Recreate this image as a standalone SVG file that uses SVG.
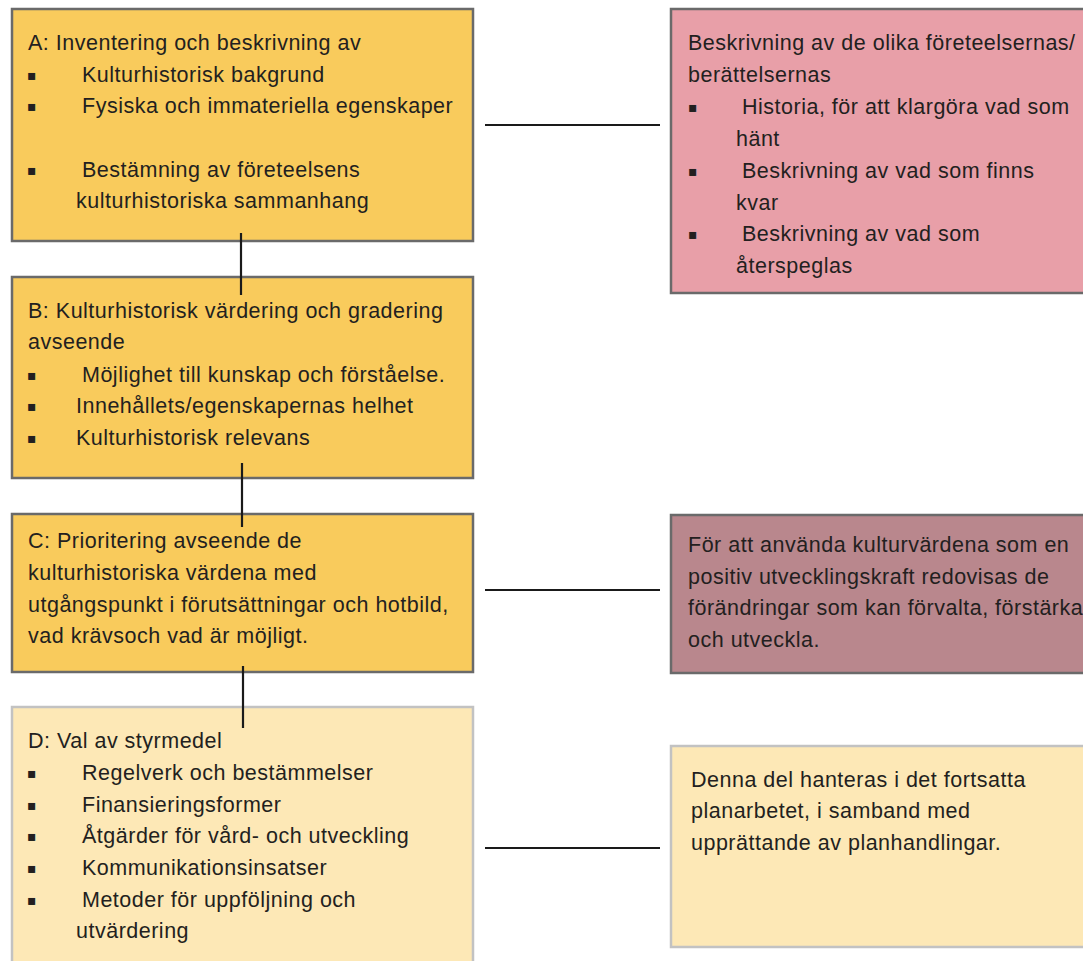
<svg xmlns="http://www.w3.org/2000/svg" width="1083" height="961" viewBox="0 0 1083 961">
<style>
text{font-family:"Liberation Sans",Arial,sans-serif;font-size:21.5px;letter-spacing:0.5px;fill:#231f20}
.b{font-family:"DejaVu Sans",sans-serif;font-size:14px;letter-spacing:0}
.dark{stroke:#6a6a6a;stroke-width:2.5}
.light{stroke:#c2c2c2;stroke-width:2.5}
.conn line{stroke:#1a1a1a;stroke-width:2.2}
</style>
<rect width="1083" height="961" fill="#fff"/>
<g id="nodeA">
<rect class="dark" x="12" y="9" width="461" height="232" fill="#f9cb5c"/>
<text x="28" y="50">A: Inventering och beskrivning av</text>
<text class="b" x="27" y="80">▪</text><text x="82" y="82">Kulturhistorisk bakgrund</text>
<text class="b" x="27" y="111">▪</text><text x="82" y="113">Fysiska och immateriella egenskaper</text>
<text class="b" x="27" y="175">▪</text><text x="82" y="177">Bestämning av företeelsens</text>
<text x="76" y="208">kulturhistoriska sammanhang</text>
</g>
<g id="nodeB">
<rect class="dark" x="12" y="277" width="461" height="201" fill="#f9cb5c"/>
<text x="28" y="318">B: Kulturhistorisk värdering och gradering</text>
<text x="28" y="349">avseende</text>
<text class="b" x="27" y="380">▪</text><text x="82" y="382">Möjlighet till kunskap och förståelse.</text>
<text class="b" x="27" y="411">▪</text><text x="76" y="413">Innehållets/egenskapernas helhet</text>
<text class="b" x="27" y="443">▪</text><text x="76" y="445">Kulturhistorisk relevans</text>
</g>
<g id="nodeC">
<rect class="dark" x="12" y="514" width="461" height="158" fill="#f9cb5c"/>
<text x="28" y="548">C: Prioritering avseende de</text>
<text x="28" y="580">kulturhistoriska värdena med</text>
<text x="28" y="612">utgångspunkt i förutsättningar och hotbild,</text>
<text x="28" y="643">vad krävsoch vad är möjligt.</text>
</g>
<g id="nodeD">
<rect class="light" x="12" y="707" width="461" height="270" fill="#fde8b6"/>
<text x="28" y="748">D: Val av styrmedel</text>
<text class="b" x="27" y="778">▪</text><text x="82" y="780">Regelverk och bestämmelser</text>
<text class="b" x="27" y="810">▪</text><text x="82" y="812">Finansieringsformer</text>
<text class="b" x="27" y="841">▪</text><text x="82" y="843">Åtgärder för vård- och utveckling</text>
<text class="b" x="27" y="873">▪</text><text x="82" y="875">Kommunikationsinsatser</text>
<text class="b" x="27" y="905">▪</text><text x="82" y="907">Metoder för uppföljning och</text>
<text x="76" y="938">utvärdering</text>
</g>
<g id="nodeR1">
<rect class="dark" x="671" y="9" width="430" height="284" fill="#e89fa8"/>
<text x="688" y="50">Beskrivning av de olika företeelsernas/</text>
<text x="688" y="82">berättelsernas</text>
<text class="b" x="688" y="112">▪</text><text x="742" y="114">Historia, för att klargöra vad som</text>
<text x="736" y="146">hänt</text>
<text class="b" x="688" y="176">▪</text><text x="742" y="178">Beskrivning av vad som finns</text>
<text x="736" y="210">kvar</text>
<text class="b" x="688" y="239">▪</text><text x="742" y="241">Beskrivning av vad som</text>
<text x="736" y="273">återspeglas</text>
</g>
<g id="nodeR2">
<rect class="dark" x="671" y="515" width="430" height="158" fill="#b9878d"/>
<text x="688" y="552">För att använda kulturvärdena som en</text>
<text x="688" y="584">positiv utvecklingskraft redovisas de</text>
<text x="688" y="615">förändringar som kan förvalta, förstärka</text>
<text x="688" y="647">och utveckla.</text>
</g>
<g id="nodeR3">
<rect class="light" x="671" y="746" width="430" height="201" fill="#fde8b6"/>
<text x="691" y="787">Denna del hanteras i det fortsatta</text>
<text x="691" y="818">planarbetet, i samband med</text>
<text x="691" y="850">upprättande av planhandlingar.</text>
</g>
<g id="connectors" class="conn">
<line x1="241" y1="233" x2="241" y2="295"/>
<line x1="242" y1="463" x2="242" y2="527"/>
<line x1="243" y1="666" x2="243" y2="728"/>
<line x1="485" y1="125" x2="660" y2="125"/>
<line x1="485" y1="590" x2="660" y2="590"/>
<line x1="485" y1="848" x2="660" y2="848"/>
</g>
</svg>
